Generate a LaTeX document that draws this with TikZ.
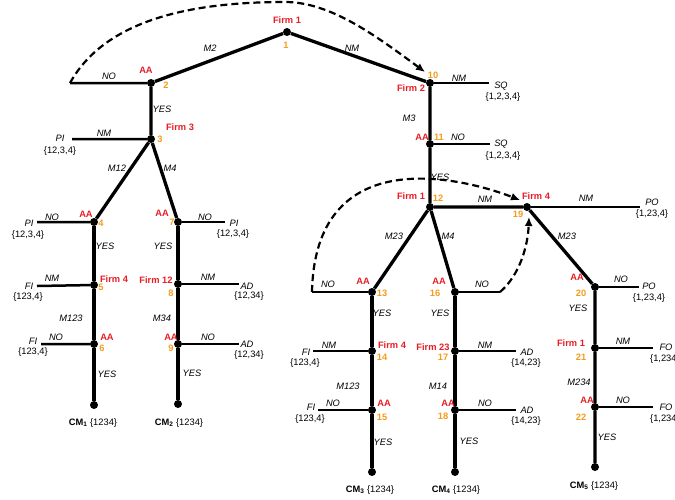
\documentclass[tikz,border=0pt]{standalone}
\usepackage{fontspec}
\setmainfont{Liberation Sans}
\usetikzlibrary{arrows.meta}
\definecolor{firmred}{RGB}{232,28,36}
\definecolor{numorange}{RGB}{243,156,28}
\begin{document}
\begin{tikzpicture}[x=1pt,y=-1pt,
    every node/.style={inner sep=0pt,font=\fontsize{9.3}{11}\selectfont},
    dot/.style={circle,fill=black,minimum size=8pt},
    firm/.style={text=firmred,font=\fontsize{9.3}{11}\selectfont\bfseries},
    num/.style={text=numorange,font=\fontsize{9.3}{11}\selectfont\bfseries},
    move/.style={font=\fontsize{9.3}{11}\selectfont\itshape},
    edge/.style={line width=3.3pt},
    leaf/.style={line width=2.5pt},
    jump/.style={line width=2.2pt,dash pattern=on 7pt off 4pt,-{Latex[length=9pt,width=8pt]}}]
\useasboundingbox (0,0) rectangle (675,499);
\path
    (287,32) node [dot] (n1) {}
    (151,83) node [dot] (n2) {}
    (151,139) node [dot] (n3) {}
    (94,222) node [dot] (n4) {}
    (94,285) node [dot] (n5) {}
    (94,344) node [dot] (n6) {}
    (94,405) node [dot] (t1) {}
    (178,222) node [dot] (n7) {}
    (178,284) node [dot] (n8) {}
    (178,344) node [dot] (n9) {}
    (178,404) node [dot] (t2) {}
    (430,83) node [dot] (n10) {}
    (430,144) node [dot] (n11) {}
    (430,207) node [dot] (n12) {}
    (372,292) node [dot] (n13) {}
    (372,351) node [dot] (n14) {}
    (372,410) node [dot] (n15) {}
    (372,472) node [dot] (t3) {}
    (455,292) node [dot] (n16) {}
    (455,351) node [dot] (n17) {}
    (455,410) node [dot] (n18) {}
    (455,472) node [dot] (t4) {}
    (527,207) node [dot] (n19) {}
    (595,287) node [dot] (n20) {}
    (595,348) node [dot] (n21) {}
    (595,407) node [dot] (n22) {}
    (595,467) node [dot] (t5) {};
\path
    (70,83) coordinate (e2)
    (72,139) coordinate (e3)
    (37,222) coordinate (e4)
    (37,286) coordinate (e5)
    (41,344) coordinate (e6)
    (225,222) coordinate (e7)
    (239,284) coordinate (e8)
    (239,344) coordinate (e9)
    (489,83) coordinate (e10)
    (490,144) coordinate (e11)
    (312,292) coordinate (e13)
    (313,351) coordinate (e14)
    (318,410) coordinate (e15)
    (500,292) coordinate (e16)
    (516,351) coordinate (e17)
    (516,410) coordinate (e18)
    (640,207) coordinate (e19)
    (639,287) coordinate (e20)
    (653,348) coordinate (e21)
    (653,407) coordinate (e22)
    (425,72) coordinate (tip10)
    (520,200) coordinate (tip19a)
    (529,217) coordinate (tip19b);
\draw [edge] (n1) -- (n2) (n1) -- (n10) (n2) -- (n3) (n3) -- (n4) (n3) -- (n7);
\draw [edge] (n4) -- (n5) -- (n6) -- (t1) (n7) -- (n8) -- (n9) -- (t2);
\draw [edge] (n10) -- (n11) -- (n12) (n12) -- (n13) (n12) -- (n16) (n12) -- (n19);
\draw [edge] (n13) -- (n14) -- (n15) -- (t3) (n16) -- (n17) -- (n18) -- (t4);
\draw [edge] (n19) -- (n20) -- (n21) -- (n22) -- (t5);
\draw [leaf] (n2) -- (e2) (n3) -- (e3) (n4) -- (e4) (n5) -- (e5) (n6) -- (e6);
\draw [leaf] (n7) -- (e7) (n8) -- (e8) (n9) -- (e9) (n10) -- (e10) (n11) -- (e11);
\draw [leaf] (n13) -- (e13) (n14) -- (e14) (n15) -- (e15) (n16) -- (e16) (n17) -- (e17) (n18) -- (e18);
\draw [leaf] (n19) -- (e19) (n20) -- (e20) (n21) -- (e21) (n22) -- (e22);
\draw [jump] (e2) .. controls (105,20) and (190,2) .. (285,2) .. controls (330,2) and (375,35) .. (tip10);
\draw [jump] (e13) .. controls (315,145) and (455,175) .. (tip19a);
\draw [jump] (e16) .. controls (520,275) and (528,245) .. (tip19b);
\path
    (287,20) node [firm] (f1) {Firm 1}
    (180,127) node [firm] (f3) {Firm 3}
    (114,279) node [firm] (f5) {Firm 4}
    (156,280) node [firm] (f8) {Firm 12}
    (411,88) node [firm] (f10) {Firm 2}
    (411,196) node [firm] (f12) {Firm 1}
    (536,196) node [firm] (f19) {Firm 4}
    (392,345) node [firm] (f14) {Firm 4}
    (433,347) node [firm] (f17) {Firm 23}
    (571,343) node [firm] (f21) {Firm 1};
\path
    (146,70) node [firm] (a2) {AA}
    (86,214) node [firm] (a4) {AA}
    (107,337) node [firm] (a6) {AA}
    (162,213) node [firm] (a7) {AA}
    (171,337) node [firm] (a9) {AA}
    (422,137) node [firm] (a11) {AA}
    (363,281) node [firm] (a13) {AA}
    (384,403) node [firm] (a15) {AA}
    (439,281) node [firm] (a16) {AA}
    (448,403) node [firm] (a18) {AA}
    (577,277) node [firm] (a20) {AA}
    (587,400) node [firm] (a22) {AA};
\path
    (286,45) node [num] (k1) {1}
    (166,85) node [num] (k2) {2}
    (160,139) node [num] (k3) {3}
    (101,223) node [num] (k4) {4}
    (101,287) node [num] (k5) {5}
    (102,348) node [num] (k6) {6}
    (172,222) node [num] (k7) {7}
    (171,293) node [num] (k8) {8}
    (171,348) node [num] (k9) {9}
    (433,75) node [num] (k10) {10}
    (439,137) node [num] (k11) {11}
    (438,198) node [num] (k12) {12}
    (382,293) node [num] (k13) {13}
    (382,357) node [num] (k14) {14}
    (382,417) node [num] (k15) {15}
    (435,293) node [num] (k16) {16}
    (443,357) node [num] (k17) {17}
    (443,416) node [num] (k18) {18}
    (518,214) node [num] (k19) {19}
    (581,293) node [num] (k20) {20}
    (581,357) node [num] (k21) {21}
    (581,417) node [num] (k22) {22};
\path
    (210,48) node [move] (m12) {M2}
    (352,48) node [move] (m110) {NM}
    (109,76) node [move] (m2) {NO}
    (162,109) node [move] (m23) {YES}
    (104,133) node [move] (m3) {NM}
    (117,168) node [move] (m34) {M12}
    (170,168) node [move] (m37) {M4}
    (52,217) node [move] (m4) {NO}
    (105,246) node [move] (m45) {YES}
    (52,278) node [move] (m5) {NM}
    (71,318) node [move] (m56) {M123}
    (56,337) node [move] (m6) {NO}
    (107,374) node [move] (m6t) {YES}
    (205,217) node [move] (m7) {NO}
    (163,246) node [move] (m78) {YES}
    (208,277) node [move] (m8) {NM}
    (162,318) node [move] (m89) {M34}
    (208,337) node [move] (m9) {NO}
    (192,373) node [move] (m9t) {YES}
    (459,78) node [move] (m10) {NM}
    (409,118) node [move] (m1011) {M3}
    (458,137) node [move] (m11) {NO}
    (440,177) node [move] (m1112) {YES}
    (485,199) node [move] (m1219) {NM}
    (394,236) node [move] (m1213) {M23}
    (448,236) node [move] (m1216) {M4}
    (328,284) node [move] (m13) {NO}
    (482,284) node [move] (m16) {NO}
    (382,313) node [move] (m1314) {YES}
    (440,313) node [move] (m1617) {YES}
    (329,345) node [move] (m14) {NM}
    (348,386) node [move] (m1415) {M123}
    (333,403) node [move] (m15) {NO}
    (383,442) node [move] (m15t) {YES}
    (485,345) node [move] (m17) {NM}
    (438,386) node [move] (m1718) {M14}
    (485,403) node [move] (m18) {NO}
    (469,441) node [move] (m18t) {YES}
    (586,198) node [move] (m19) {NM}
    (567,236) node [move] (m1920) {M23}
    (621,279) node [move] (m20) {NO}
    (578,308) node [move] (m2021) {YES}
    (623,341) node [move] (m21) {NM}
    (579,382) node [move] (m2122) {M234}
    (623,400) node [move] (m22) {NO}
    (607,437) node [move] (m22t) {YES};
\path
    (60,138) node [move] (o3) {PI} (60,151) node (p3) {\{12,3,4\}}
    (29,223) node [move] (o4) {PI} (28,235) node (p4) {\{12,3,4\}}
    (29,286) node [move] (o5) {FI} (28,297) node (p5) {\{123,4\}}
    (33,341) node [move] (o6) {FI} (33,352) node (p6) {\{123,4\}}
    (234,223) node [move] (o7) {PI} (233,234) node (p7) {\{12,3,4\}}
    (247,286) node [move] (o8) {AD} (249,296) node (p8) {\{12,34\}}
    (247,344) node [move] (o9) {AD} (249,355) node (p9) {\{12,34\}}
    (501,86) node [move] (o10) {SQ} (503,97) node (p10) {\{1,2,3,4\}}
    (501,144) node [move] (o11) {SQ} (503,156) node (p11) {\{1,2,3,4\}}
    (306,352) node [move] (o14) {FI} (305,363) node (p14) {\{123,4\}}
    (311,407) node [move] (o15) {FI} (310,419) node (p15) {\{123,4\}}
    (527,352) node [move] (o17) {AD} (526,363) node (p17) {\{14,23\}}
    (527,410) node [move] (o18) {AD} (526,421) node (p18) {\{14,23\}}
    (652,202) node [move] (o19) {PO} (652,214) node (p19) {\{1,23,4\}}
    (649,286) node [move] (o20) {PO} (649,298) node (p20) {\{1,23,4\}}
    (666,347) node [move] (o21) {FO} (650,359) node [anchor=west] (p21) {\{1,234\}}
    (666,407) node [move] (o22) {FO} (650,419) node [anchor=west] (p22) {\{1,234\}};
\path
    (93,423) node (c1) {\textbf{CM\textsubscript{1}} \{1234\}}
    (179,423) node (c2) {\textbf{CM\textsubscript{2}} \{1234\}}
    (370,490) node (c3) {\textbf{CM\textsubscript{3}} \{1234\}}
    (456,490) node (c4) {\textbf{CM\textsubscript{4}} \{1234\}}
    (594,486) node (c5) {\textbf{CM\textsubscript{5}} \{1234\}};
\end{tikzpicture}
\end{document}
